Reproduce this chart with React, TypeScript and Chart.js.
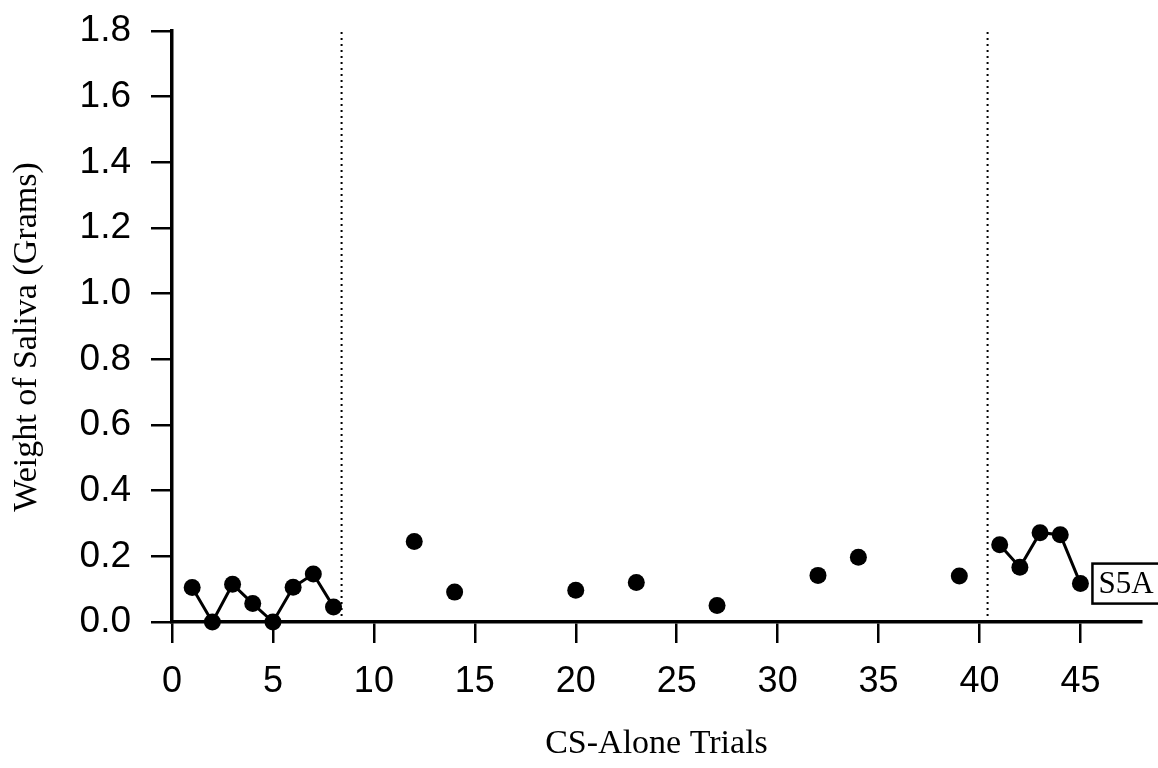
import React, { useEffect, useRef } from "react";
import { Chart, registerables } from "chart.js";

Chart.register(...registerables);

// Baseline phase (connected)
const phase1Trials = [1, 2, 3, 4, 5, 6, 7, 8];
const phase1Weights = [0.105, 0.0, 0.115, 0.056, 0.0, 0.106, 0.146, 0.046];
// Middle phase (unconnected points)
const phase2Trials = [12, 14, 20, 23, 27, 32, 34, 39];
const phase2Weights = [0.245, 0.091, 0.097, 0.12, 0.05, 0.142, 0.197, 0.14];
// Final phase (connected)
const phase3Trials = [41, 42, 43, 44, 45];
const phase3Weights = [0.235, 0.167, 0.272, 0.266, 0.117];

const phaseChangeTrials = [8.4, 40.4];
const xTickValues = [0, 5, 10, 15, 20, 25, 30, 35, 40, 45];
const yTickValues = [0, 0.2, 0.4, 0.6, 0.8, 1.0, 1.2, 1.4, 1.6, 1.8];
const xAxisMax = 48;
const subjectLabel = "S5A";
const xTitle = "CS-Alone Trials";
const yTitle = "Weight of Saliva (Grams)";

const serif = "'Liberation Serif', 'Times New Roman', serif";
const sans = "'Liberation Sans', Arial, sans-serif";

const toPoints = (xs: number[], ys: number[]) => xs.map((x, i) => ({ x, y: ys[i] }));

export default function App() {
  const canvasRef = useRef<HTMLCanvasElement | null>(null);

  useEffect(() => {
    if (!canvasRef.current) return;

    const annotationPlugin = {
      id: "annotations",
      afterDraw(chart: any) {
        const ctx = chart.ctx;
        const xs = chart.scales.x;
        const ys = chart.scales.y;
        ctx.save();
        // Subject label box next to the last point
        const lastX = phase3Trials[phase3Trials.length - 1];
        const lastY = phase3Weights[phase3Weights.length - 1];
        const px = xs.getPixelForValue(lastX) + 12;
        const py = ys.getPixelForValue(lastY);
        ctx.font = `31px ${serif}`;
        ctx.textBaseline = "middle";
        ctx.textAlign = "left";
        ctx.fillStyle = "#000";
        const w = ctx.measureText(subjectLabel).width;
        ctx.lineWidth = 2.5;
        ctx.strokeStyle = "#000";
        ctx.strokeRect(px, py - 20, w + 16, 40);
        ctx.fillText(subjectLabel, px + 6, py + 1);
        // Y axis title
        ctx.font = `34px ${serif}`;
        ctx.textAlign = "center";
        ctx.translate(27, 337);
        ctx.rotate(-Math.PI / 2);
        ctx.fillText(yTitle, 0, 0);
        ctx.restore();
      },
    };

    const chart = new Chart(canvasRef.current, {
      type: "scatter",
      data: {
        datasets: [
          {
            data: toPoints(phase1Trials, phase1Weights),
            showLine: true,
            borderColor: "#000",
            borderWidth: 3,
            backgroundColor: "#000",
            pointRadius: 8.5,
            pointBorderWidth: 0,
            clip: false as any,
          },
          {
            data: toPoints(phase2Trials, phase2Weights),
            showLine: false,
            borderColor: "#000",
            backgroundColor: "#000",
            pointRadius: 8.5,
            pointBorderWidth: 0,
            clip: false as any,
          },
          {
            data: toPoints(phase3Trials, phase3Weights),
            showLine: true,
            borderColor: "#000",
            borderWidth: 3,
            backgroundColor: "#000",
            pointRadius: 8.5,
            pointBorderWidth: 0,
            clip: false as any,
          },
          ...phaseChangeTrials.map((t) => ({
            data: [
              { x: t, y: 0 },
              { x: t, y: yTickValues[yTickValues.length - 1] },
            ],
            showLine: true,
            borderColor: "#000",
            borderWidth: 2,
            borderDash: [2, 4],
            pointRadius: 0,
            clip: false as any,
          })),
        ],
      },
      options: {
        animation: false,
        responsive: false,
        maintainAspectRatio: false,
        layout: { padding: { top: 31, left: 0, right: 17, bottom: 0 } },
        plugins: {
          legend: { display: false },
          tooltip: { enabled: false },
        },
        scales: {
          x: {
            type: "linear",
            min: 0,
            max: xAxisMax,
            afterBuildTicks: (scale: any) => {
              scale.ticks = xTickValues.map((v) => ({ value: v }));
            },
            afterFit: (scale: any) => {
              scale.height = 146;
              scale.paddingLeft = 0;
              scale.paddingRight = 0;
            },
            grid: {
              drawOnChartArea: false,
              drawTicks: true,
              tickLength: 21,
              color: "#000",
              lineWidth: 2.5,
            },
            border: { display: true, color: "#000", width: 3.5 },
            ticks: {
              color: "#000",
              padding: 17,
              maxRotation: 0,
              autoSkip: false,
              font: { family: sans, size: 36 },
            },
            title: {
              display: true,
              text: xTitle,
              color: "#000",
              padding: { top: 0, bottom: 4 },
              font: { family: serif, size: 34 },
            },
          },
          y: {
            type: "linear",
            min: 0,
            max: yTickValues[yTickValues.length - 1],
            afterBuildTicks: (scale: any) => {
              scale.ticks = yTickValues.map((v) => ({ value: v }));
            },
            afterFit: (scale: any) => {
              scale.width = 172;
              scale.paddingTop = 0;
              scale.paddingBottom = 0;
            },
            grid: {
              drawOnChartArea: false,
              drawTicks: true,
              tickLength: 21,
              color: "#000",
              lineWidth: 2.5,
            },
            border: { display: true, color: "#000", width: 3.5 },
            ticks: {
              color: "#000",
              padding: 20,
              autoSkip: false,
              callback: (v: any) => Number(v).toFixed(1),
              font: { family: sans, size: 37 },
            },
          },
        },
      },
      plugins: [annotationPlugin],
    } as any);

    return () => chart.destroy();
  }, []);

  return (
    <div style={{ position: "fixed", left: 0, top: 0, width: 1158, height: 768, background: "#fff" }}>
      <canvas ref={canvasRef} width={1158} height={768} style={{ width: 1158, height: 768, display: "block" }} />
    </div>
  );
}
